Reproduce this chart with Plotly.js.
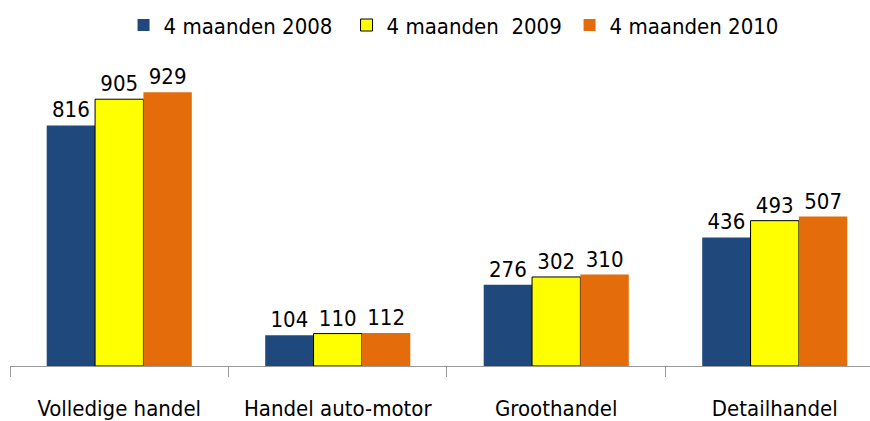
<!DOCTYPE html>
<html>
<head>
<meta charset="utf-8">
<script src="https://cdn.plot.ly/plotly-3.0.1.min.js"></script>
<style>html,body{margin:0;padding:0;background:#fff;}#chart{width:870px;height:421px;}</style>
</head>
<body>
<div id="chart"></div>
<script>
var categories = ["Volledige handel", "Handel auto-motor", "Groothandel", "Detailhandel"];
var seriesNames = ["4 maanden 2008", "4 maanden\u00a0\u00a02009", "4 maanden 2010"];
var values2008 = [816, 104, 276, 436];
var values2009 = [905, 110, 302, 493];
var values2010 = [929, 112, 310, 507];

var FONT = "'Liberation Sans Narrow', 'Arial Narrow', 'DejaVu Sans Condensed', sans-serif";
var colors = ["#1F497D", "#FFFF00", "#E46C0A"];
var lines = [{color: "#1F497D", width: 0}, {color: "#000000", width: 1}, {color: "#E46C0A", width: 0}];
var allValues = [values2008, values2009, values2010];

var traces = allValues.map(function (vals, i) {
  return {
    type: "bar",
    name: seriesNames[i],
    x: categories,
    y: vals,
    text: vals.map(String),
    textposition: "outside",
    cliponaxis: false,
    textfont: {family: FONT, size: 22, color: "#000"},
    marker: {color: colors[i], line: lines[i]},
    hoverinfo: "none"
  };
});

var layout = {
  width: 870,
  height: 421,
  margin: {l: 10, r: 0, t: 60, b: 55},
  paper_bgcolor: "#fff",
  plot_bgcolor: "#fff",
  barmode: "group",
  bargap: 0.336,
  bargroupgap: 0,
  showlegend: true,
  legend: {
    orientation: "h",
    xref: "container",
    yref: "container",
    x: 0.5265,
    xanchor: "center",
    y: 0.99,
    yanchor: "top",
    entrywidth: 178,
    entrywidthmode: "pixels",
    font: {family: FONT, size: 22, color: "#000"},
    traceorder: "normal"
  },
  xaxis: {
    type: "category",
    range: [-0.5, 3.436],
    showline: true,
    linecolor: "#999999",
    linewidth: 1,
    ticks: "outside",
    tickson: "boundaries",
    ticklen: 10,
    tickcolor: "#999999",
    tickwidth: 1,
    showgrid: false,
    zeroline: false,
    ticklabelstandoff: 23,
    tickfont: {family: FONT, size: 22, color: "#000"},
    fixedrange: true
  },
  yaxis: {
    visible: false,
    range: [0, 1038],
    fixedrange: true
  }
};

Plotly.newPlot("chart", traces, layout, {displayModeBar: false, staticPlot: true});
</script>
</body>
</html>
